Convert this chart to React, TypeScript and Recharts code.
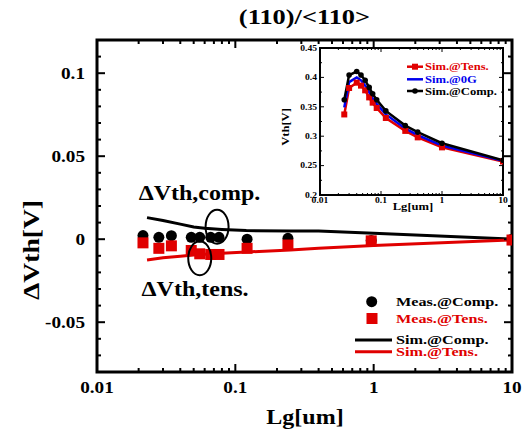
import React from 'react';
import {
  ComposedChart, Line, Scatter, XAxis, YAxis, ReferenceDot, ReferenceArea, Legend,
} from 'recharts';

// measured dVth, main plot
const measLg = [0.0215, 0.028, 0.0345, 0.048, 0.0553, 0.0664, 0.0762, 0.1216, 0.24, 0.96, 10];
const measComp = [0.0022, 0.0011, 0.0021, 0.0011, 0.0011, 0.0011, 0.0011, 0.0, 0.0005, -0.0008, 0.0];
const measTens = [-0.0022, -0.0055, -0.004, -0.0068, -0.0088, -0.0092, -0.0092, -0.0055, -0.0035, -0.001, -0.0005];

// simulated dVth, main plot
const simLg = [0.023, 0.03, 0.04, 0.05, 0.06, 0.08, 0.12, 0.25, 0.4, 1, 10];
const simComp = [0.013, 0.0113, 0.0091, 0.0073, 0.0066, 0.0059, 0.0052, 0.0049, 0.0049, 0.0036, 0.0];
const simTens = [-0.0125, -0.0112, -0.0102, -0.0095, -0.009, -0.0085, -0.0077, -0.0065, -0.0055, -0.0038, -0.0005];

// inset: absolute Vth
const insetLg = [0.025, 0.03, 0.04, 0.047, 0.055, 0.064, 0.073, 0.085, 0.12, 0.25, 0.4, 1, 10];
const insetTens = [0.337, 0.382, 0.391, 0.386, 0.378, 0.366, 0.357, 0.348, 0.331, 0.309, 0.298, 0.281, 0.257];
const insetZero = [0.349, 0.392, 0.4, 0.395, 0.386, 0.375, 0.364, 0.355, 0.337, 0.313, 0.302, 0.284, 0.258];
const insetComp = [0.362, 0.404, 0.41, 0.404, 0.395, 0.383, 0.372, 0.362, 0.343, 0.318, 0.307, 0.288, 0.259];

// ticks
const xMajor = [0.01, 0.1, 1, 10];
const xMinor = [0.02, 0.03, 0.04, 0.05, 0.06, 0.07, 0.08, 0.09, 0.2, 0.3, 0.4, 0.5, 0.6, 0.7, 0.8, 0.9, 2, 3, 4, 5, 6, 7, 8, 9];
const yMajor = [-0.05, 0, 0.05, 0.1];
const yMinor = [-0.07, -0.06, -0.04, -0.03, -0.02, -0.01, 0.01, 0.02, 0.03, 0.04, 0.06, 0.07, 0.08, 0.09, 0.11];
const insetYMajor = [0.2, 0.25, 0.3, 0.35, 0.4, 0.45];
const insetYMinor = [0.225, 0.275, 0.325, 0.375, 0.425];

const zip = (xs: number[], ys: number[]) => xs.map((x, i) => ({ x, y: ys[i] }));

const FONT = '"Liberation Serif", "Times New Roman", serif';
const RED = '#e00000';
const BLUE = '#0000ee';
const SX = 1.2;

const T = ({ x, y, size, fill = '#000', anchor = 'start', rot = 0, children }: any) => (
  <g transform={`translate(${x},${y}) rotate(${rot}) scale(${SX},1)`}>
    <text x={0} y={0} fontFamily={FONT} fontWeight="bold" fontSize={size} fill={fill} textAnchor={anchor}>
      {children}
    </text>
  </g>
);

// axis tick labels only (marks are drawn inside the frame below)
const xLabel = (fs: number, dy: number) => (p: any) => {
  const v = p.payload.value;
  return <T x={p.x} y={p.y + dy} size={fs} anchor="middle">{String(v)}</T>;
};
const yLabel = (fs: number, gap: number) => (p: any) => (
  <T x={p.x - gap} y={p.y + fs * 0.35} size={fs} anchor="end">{String(p.payload.value)}</T>
);

// inward tick marks, dx/dy = direction in pixels
const tickMark = (dx: number, dy: number, sw: number) => (p: any) =>
  p.cx == null ? <g /> : <line x1={p.cx} y1={p.cy} x2={p.cx + dx} y2={p.cy + dy} stroke="#000" strokeWidth={sw} />;

const frameTicks = (
  id: string, xLo: number, xHi: number, yLo: number, yHi: number,
  yMaj: number[], yMin: number[], big: number, small: number, sw: number,
) => {
  const out: any[] = [];
  xMajor.forEach(v => {
    out.push(<ReferenceDot key={`${id}xb${v}`} x={v} y={yLo} ifOverflow="visible" shape={tickMark(0, -big, sw)} />);
    out.push(<ReferenceDot key={`${id}xt${v}`} x={v} y={yHi} ifOverflow="visible" shape={tickMark(0, big, sw)} />);
  });
  xMinor.forEach(v => {
    out.push(<ReferenceDot key={`${id}xbm${v}`} x={v} y={yLo} ifOverflow="visible" shape={tickMark(0, -small, sw)} />);
    out.push(<ReferenceDot key={`${id}xtm${v}`} x={v} y={yHi} ifOverflow="visible" shape={tickMark(0, small, sw)} />);
  });
  yMaj.forEach(v => {
    out.push(<ReferenceDot key={`${id}yl${v}`} x={xLo} y={v} ifOverflow="visible" shape={tickMark(big, 0, sw)} />);
    out.push(<ReferenceDot key={`${id}yr${v}`} x={xHi} y={v} ifOverflow="visible" shape={tickMark(-big, 0, sw)} />);
  });
  yMin.forEach(v => {
    out.push(<ReferenceDot key={`${id}ylm${v}`} x={xLo} y={v} ifOverflow="visible" shape={tickMark(small, 0, sw)} />);
    out.push(<ReferenceDot key={`${id}yrm${v}`} x={xHi} y={v} ifOverflow="visible" shape={tickMark(-small, 0, sw)} />);
  });
  return out;
};

const dot = (r: number, color: string) => (p: any) =>
  p.cx == null ? <g /> : <circle cx={p.cx} cy={p.cy} r={r} fill={color} />;
const square = (s: number, color: string) => (p: any) =>
  p.cx == null ? <g /> : <rect x={p.cx - s / 2} y={p.cy - s / 2} width={s} height={s} fill={color} />;

const MainLegend = () => (
  <svg width={170} height={75}>
    <circle cx={21.7} cy={11.7} r={5.5} fill="#000" />
    <T x={46} y={16} size={13.5}>Meas.@Comp.</T>
    <rect x={16.5} y={23} width={11} height={11} fill={RED} />
    <T x={46} y={33} size={13.5} fill={RED}>Meas.@Tens.</T>
    <line x1={5} x2={42} y1={50} y2={50} stroke="#000" strokeWidth={3} />
    <T x={46} y={53.5} size={13.5}>Sim.@Comp.</T>
    <line x1={5} x2={42} y1={61.7} y2={61.7} stroke={RED} strokeWidth={3} />
    <T x={46} y={65.5} size={13.5} fill={RED}>Sim.@Tens.</T>
  </svg>
);

const InsetLegend = () => (
  <svg width={100} height={42}>
    <line x1={7} x2={23} y1={8.7} y2={8.7} stroke={RED} strokeWidth={2.5} />
    <rect x={12} y={5.7} width={6} height={6} fill={RED} />
    <T x={25} y={12.2} size={10.5} fill={RED}>Sim.@Tens.</T>
    <line x1={7} x2={23} y1={21.3} y2={21.3} stroke={BLUE} strokeWidth={2.5} />
    <T x={25} y={24.8} size={10.5} fill={BLUE}>Sim.@0G</T>
    <line x1={7} x2={23} y1={33} y2={33} stroke="#000" strokeWidth={2.5} />
    <circle cx={15} cy={33} r={2.8} fill="#000" />
    <T x={25} y={36.5} size={10.5}>Sim.@Comp.</T>
  </svg>
);

const Inset = () => (
  <ComposedChart width={240} height={180} margin={{ top: 8, right: 7, bottom: 0, left: 0 }}>
    <XAxis
      dataKey="x" type="number" scale="log" domain={[0.01, 10]} allowDataOverflow
      ticks={xMajor} interval={0} tickSize={0} tickMargin={0} tickLine={false} axisLine={false}
      height={25} tick={xLabel(8, 8)}
      label={{ content: () => <T x={143} y={170} size={10.5} anchor="middle">Lg[um]</T> }}
    />
    <YAxis
      dataKey="y" type="number" domain={[0.2, 0.45]} allowDataOverflow
      ticks={insetYMajor} interval={0} tickSize={0} tickMargin={0} tickLine={false} axisLine={false}
      width={50} tick={yLabel(8, 3)}
      label={{ content: () => <T x={19} y={87} size={10.5} anchor="middle" rot={-90}>Vth[V]</T> }}
    />
    <ReferenceArea x1={0.01} x2={10} y1={0.2} y2={0.45} ifOverflow="visible" fill="none" fillOpacity={0} stroke="#000" strokeWidth={2} />
    {frameTicks('i', 0.01, 10, 0.2, 0.45, insetYMajor, insetYMinor, 4, 2, 1)}
    <Line data={zip(insetLg, insetTens)} dataKey="y" stroke={RED} strokeWidth={2.5} dot={square(6, RED)} isAnimationActive={false} />
    <Line data={zip(insetLg, insetZero)} dataKey="y" stroke={BLUE} strokeWidth={2.5} dot={false} isAnimationActive={false} />
    <Line data={zip(insetLg, insetComp)} dataKey="y" stroke="#000" strokeWidth={2.5} dot={dot(2.8, '#000')} isAnimationActive={false} />
    <Legend
      layout="horizontal" verticalAlign="middle" align="center"
      wrapperStyle={{ left: 130, top: 18, width: 100, height: 42 }}
      content={() => <InsetLegend />}
    />
  </ComposedChart>
);

export default function App() {
  return (
    <div style={{ position: 'absolute', left: 0, top: 0, width: 525, height: 435, background: '#fff' }}>
      <ComposedChart width={525} height={435} margin={{ top: 40, right: 13, bottom: 0, left: 0 }}>
        <XAxis
          dataKey="x" type="number" scale="log" domain={[0.01, 10]} allowDataOverflow
          ticks={xMajor} interval={0} tickSize={0} tickMargin={0} tickLine={false} axisLine={false}
          height={63} tick={xLabel(16, 21)}
          label={{ content: () => <T x={305} y={424} size={20} anchor="middle">Lg[um]</T> }}
        />
        <YAxis
          dataKey="y" type="number" domain={[-0.08, 0.12]} allowDataOverflow
          ticks={yMajor} interval={0} tickSize={0} tickMargin={0} tickLine={false} axisLine={false}
          width={97} tick={yLabel(16, 12)}
          label={{ content: () => <T x={39} y={250} size={23} anchor="middle" rot={-90}>ΔVth[V]</T> }}
        />

        <ReferenceArea x1={0.01} x2={10} y1={-0.08} y2={0.12} ifOverflow="visible" fill="none" fillOpacity={0} stroke="#000" strokeWidth={3} />
        {frameTicks('m', 0.01, 10, -0.08, 0.12, yMajor, yMinor, 8, 4, 2)}

        {/* title sits above the frame, centred on the log axis */}
        <ReferenceDot x={0.316} y={0.12} ifOverflow="visible" shape={(p: any) => (
          <T x={p.cx} y={p.cy - 16} size={22} anchor="middle">(110)/&lt;110&gt;</T>
        )} />

        <Line data={zip(simLg, simComp)} dataKey="y" stroke="#000" strokeWidth={3} dot={false} isAnimationActive={false} />
        <Line data={zip(simLg, simTens)} dataKey="y" stroke={RED} strokeWidth={3} dot={false} isAnimationActive={false} />
        <Scatter data={zip(measLg, measComp)} dataKey="y" shape={dot(5.5, '#000')} isAnimationActive={false} />
        <Scatter data={zip(measLg, measTens)} dataKey="y" shape={square(11, RED)} isAnimationActive={false} />

        {/* annotations */}
        <ReferenceDot x={0.0738} y={0.0075} shape={(p: any) => (
          <ellipse cx={p.cx} cy={p.cy} rx={11.5} ry={17} fill="none" stroke="#000" strokeWidth={2} />
        )} />
        <ReferenceDot x={0.0553} y={-0.0115} shape={(p: any) => (
          <ellipse cx={p.cx} cy={p.cy} rx={11.5} ry={17} fill="none" stroke="#000" strokeWidth={2} />
        )} />
        <ReferenceDot x={0.02} y={0.0236} shape={(p: any) => <T x={p.cx} y={p.cy} size={20}>ΔVth,comp.</T>} />
        <ReferenceDot x={0.021} y={-0.0342} shape={(p: any) => <T x={p.cx} y={p.cy} size={20}>ΔVth,tens.</T>} />

        <Legend
          layout="horizontal" verticalAlign="middle" align="center"
          wrapperStyle={{ left: 350, top: 290, width: 170, height: 75 }}
          content={() => <MainLegend />}
        />
      </ComposedChart>
      <div style={{ position: 'absolute', left: 270, top: 40 }}>
        <Inset />
      </div>
    </div>
  );
}
